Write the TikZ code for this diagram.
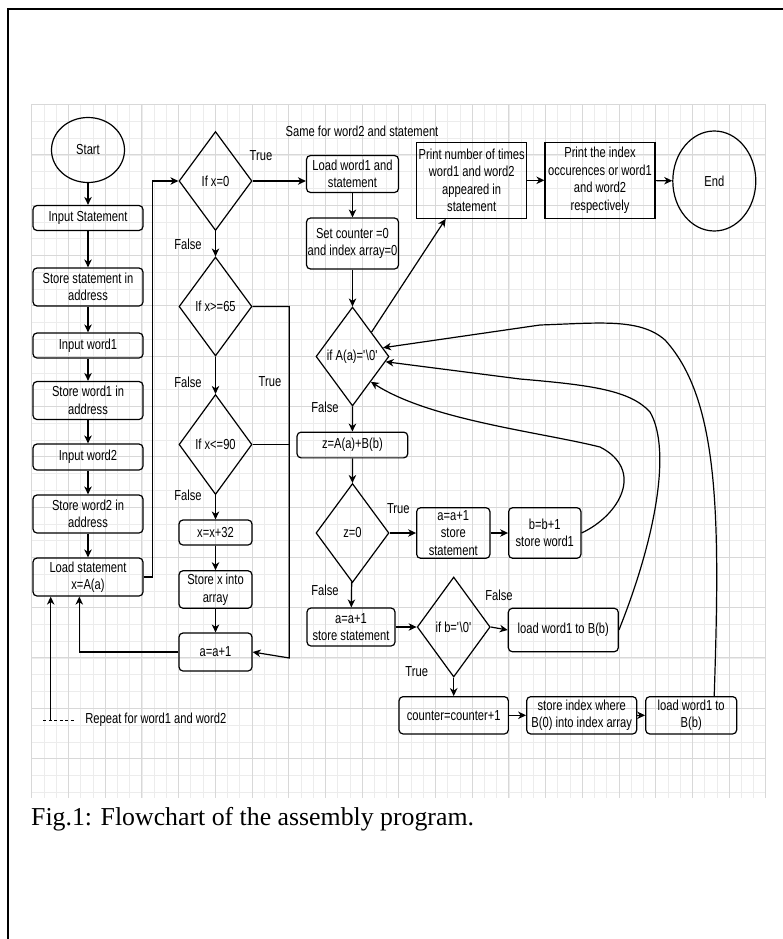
\documentclass[tikz,border=0pt]{standalone}
\usepackage{fontspec}
\setmainfont{Liberation Sans}[FakeStretch=0.77]
\newfontfamily\capfont{Liberation Serif}
\usetikzlibrary{shapes.geometric,arrows.meta,calc}
\definecolor{gminorc}{HTML}{ECECEC}
\definecolor{gmajorc}{HTML}{D8D8D8}
\newcommand{\zq}{\textquotesingle}
\newcommand{\bsl}{\textbackslash}
\begin{document}
\begin{tikzpicture}[x=1pt,y=-1pt,
  every node/.style={font=\fontsize{14.5}{17.5}\selectfont, inner sep=0pt},
  box/.style={draw, rounded corners=4pt, align=center, line width=1.2pt},
  sbox/.style={draw, align=center, line width=1.2pt},
  dia/.style={draw, diamond, minimum width=73pt, minimum height=99pt, line width=1.2pt},
  oval/.style={draw, ellipse, line width=1.2pt},
  arr/.style={line width=1.2pt, -{Stealth[length=8pt,width=7.5pt,inset=2.5pt]}},
  ln/.style={line width=1.2pt}]
\useasboundingbox (0,0) rectangle (783,939);
% grid
\foreach \i in {0,...,60} {\draw[gminorc, line width=0.5pt] ({31.7+\i*12.2333},104.5) -- ({31.7+\i*12.2333},798);}
\foreach \j in {0,...,41} {\draw[gminorc, line width=0.5pt] (31.7,{104.5+\j*16.77}) -- (765.7,{104.5+\j*16.77});}
\foreach \i in {0,...,20} {\draw[gmajorc, line width=0.7pt] ({31.7+\i*36.7},104.5) -- ({31.7+\i*36.7},798);}
\foreach \j in {0,...,13} {\draw[gmajorc, line width=0.7pt] (31.7,{104.5+\j*50.3}) -- (765.7,{104.5+\j*50.3});}
% frame
\draw[line width=2pt] (8,939) -- (8,9) -- (783,9);

% left column
\node[oval, minimum width=73pt, minimum height=65pt] (start) at (88,150) {Start};
\node[box, minimum width=110pt, minimum height=25pt] (n1) at (88,218) {Input Statement};
\node[box, minimum width=110pt, minimum height=38pt] (n2) at (88,287) {Store statement in\\address};
\node[box, minimum width=110pt, minimum height=25pt] (n3) at (88,345.5) {Input word1};
\node[box, minimum width=110pt, minimum height=38pt] (n4) at (88,400.5) {Store word1 in\\address};
\node[box, minimum width=110pt, minimum height=26pt] (n5) at (88,457) {Input word2};
\node[box, minimum width=110pt, minimum height=38pt] (n6) at (88,514) {Store word2 in\\address};
\node[box, minimum width=110pt, minimum height=38pt] (n7) at (88,577) {Load statement\\x=A(a)};

% second column
\node[dia] (d1) at (215.5,181) {If x=0};
\node[dia] (d2) at (215.5,306.5) {If x>=65};
\node[dia, minimum height=100pt] (d3) at (215.5,444.5) {If x<=90};
\node[box, minimum width=73pt, minimum height=25pt] (b1) at (215.5,532.5) {x=x+32};
\node[box, minimum width=73pt, minimum height=37.5pt] (b2) at (215.5,589.5) {Store x into\\array};
\node[box, minimum width=73pt, minimum height=38pt] (b3) at (215.5,652) {a=a+1};

% third column
\node[box, minimum width=92pt, minimum height=37pt] (c1) at (352.5,174) {Load word1 and\\statement};
\node[box, minimum width=92pt, minimum height=51pt] (c2) at (352.5,243.5) {Set counter =0\\and index array=0};
\node[dia] (dA) at (352.5,356.5) {if A(a)=\zq\bsl0\zq};
\node[box, minimum width=110.7pt, minimum height=25.7pt] (c3) at (352.4,445) {z=A(a)+B(b)};
\node[dia] (dZ) at (352.5,533) {z=0};
\node[box, minimum width=88pt, minimum height=38pt] (c4) at (351,627) {a=a+1\\store statement};

% top right
\node[sbox, minimum width=110pt, minimum height=76pt] (pn) at (471.7,180.3) {Print number of times\\word1 and word2\\appeared in\\statement};
\node[sbox, minimum width=110pt, minimum height=76pt] (pi) at (600,180.3) {Print the index\\occurences or word1\\and word2\\respectively};
\node[oval, minimum width=83pt, minimum height=100pt] (end) at (714.3,181) {End};

% lower right
\node[box, minimum width=73.3pt, minimum height=50.6pt] (t1) at (453.3,533) {a=a+1\\store\\statement};
\node[box, minimum width=72.3pt, minimum height=50.6pt] (t2) at (544.8,533) {b=b+1\\store word1};
\node[dia, minimum height=100pt] (dB) at (453.7,627) {if b=\zq\bsl0\zq};
\node[box, minimum width=110pt, minimum height=43.4pt] (u1) at (563.3,630) {load word1 to B(b)};
\node[box, minimum width=109.3pt, minimum height=37.3pt] (v1) at (453.7,715.3) {counter=counter+1};
\node[box, minimum width=110pt, minimum height=37.3pt] (v2) at (581.7,715.3) {store index where\\B(0) into index array};
\node[box, minimum width=91pt, minimum height=37.3pt] (v3) at (691.2,715.3) {load word1 to\\B(b)};

% labels
\node (lT1) at (261,156) {True};
\node (lF1) at (188,244) {False};
\node (lF2) at (188,382) {False};
\node (lT2) at (270,382) {True};
\node (lF3) at (188,495.5) {False};
\node (lSame) at (362,131.7) {Same for word2 and statement};
\node (lF4) at (325,407.7) {False};
\node (lT3) at (398.3,509) {True};
\node (lF5) at (325,590) {False};
\node (lF6) at (499,595.7) {False};
\node (lT4) at (416.7,671.7) {True};
\node (lRep) at (155.8,720) {Repeat for word1 and word2};
\node[anchor=west, font=\capfont\fontsize{25.8}{30}\selectfont] (cap) at (31,819) {Fig.1: Flowchart of the assembly program.};

% connectors left column
\draw[arr] (start) -- (n1);
\draw[arr] (n1) -- (n2);
\draw[arr] (n2) -- (n3);
\draw[arr] (n3) -- (n4);
\draw[arr] (n4) -- (n5);
\draw[arr] (n5) -- (n6);
\draw[arr] (n6) -- (n7);
\draw[arr] (n7.east) -- ++(9,0) |- (d1.west);
\coordinate (rp) at (50.7,720);
\coordinate (dsA) at (43,720);
\coordinate (dsB) at (75,720);
\draw[line width=1pt, dash pattern=on 3pt off 2.5pt] (dsA) -- (dsB);
\draw[arr] (rp) -- (rp |- n7.south);
\draw[arr] (b3.west) -| ($(n7.south)+(-8.7,0)$);

% second column connectors
\draw[arr] (d1) -- (d2);
\draw[arr] (d2) -- (d3);
\draw[arr] (d3) -- (b1);
\draw[arr] (b1) -- (b2);
\draw[arr] (b2) -- (b3);
\draw[arr] (d2.east) -- ++(36.7,0) -- ++(0,351.5) -- (b3.east);
\draw[ln] (d3.east) -- ++(36.7,0);
\draw[arr] (d1.east) -- (d1.east -| c1.west);

% third column connectors
\draw[arr] (c1) -- (c2);
\draw[arr] (c2) -- (dA);
\draw[arr] (dA) -- (c3);
\draw[arr] (c3) -- (dZ);
\draw[arr] (dZ) -- (c4);
\draw[arr] (dZ) -- (t1);
\draw[arr] (t1) -- (t2);
\draw[arr] (c4) -- (dB);
\draw[arr] (dB.east) -- (u1.west);
\draw[arr] (dB) -- (v1);
\draw[arr] (v1) -- (v2);
\draw[arr] (v2) -- (v3);
\draw[arr] (dA.52) -- ($(pn.south)+(-26,0)$);
\draw[arr] (pn) -- (pi);
\draw[arr] (pi) -- (end);

% loop-back curves
\draw[arr] ($(v3.north)+(23,0)$) .. controls (720,520) and (720,400) .. (665,340) .. controls (640,318) and (600,323) .. (540,325) -- (dA.16);
\draw[arr] (u1.east) .. controls (655,540) and (672,450) .. (650,412) .. controls (630,390) and (590,385) .. (520,379) -- (dA.-9);
\draw[arr] (t2.east) .. controls (620,515) and (645,470) .. (600,447) .. controls (540,432) and (430,420) .. (dA.-54);
\end{tikzpicture}
\end{document}
